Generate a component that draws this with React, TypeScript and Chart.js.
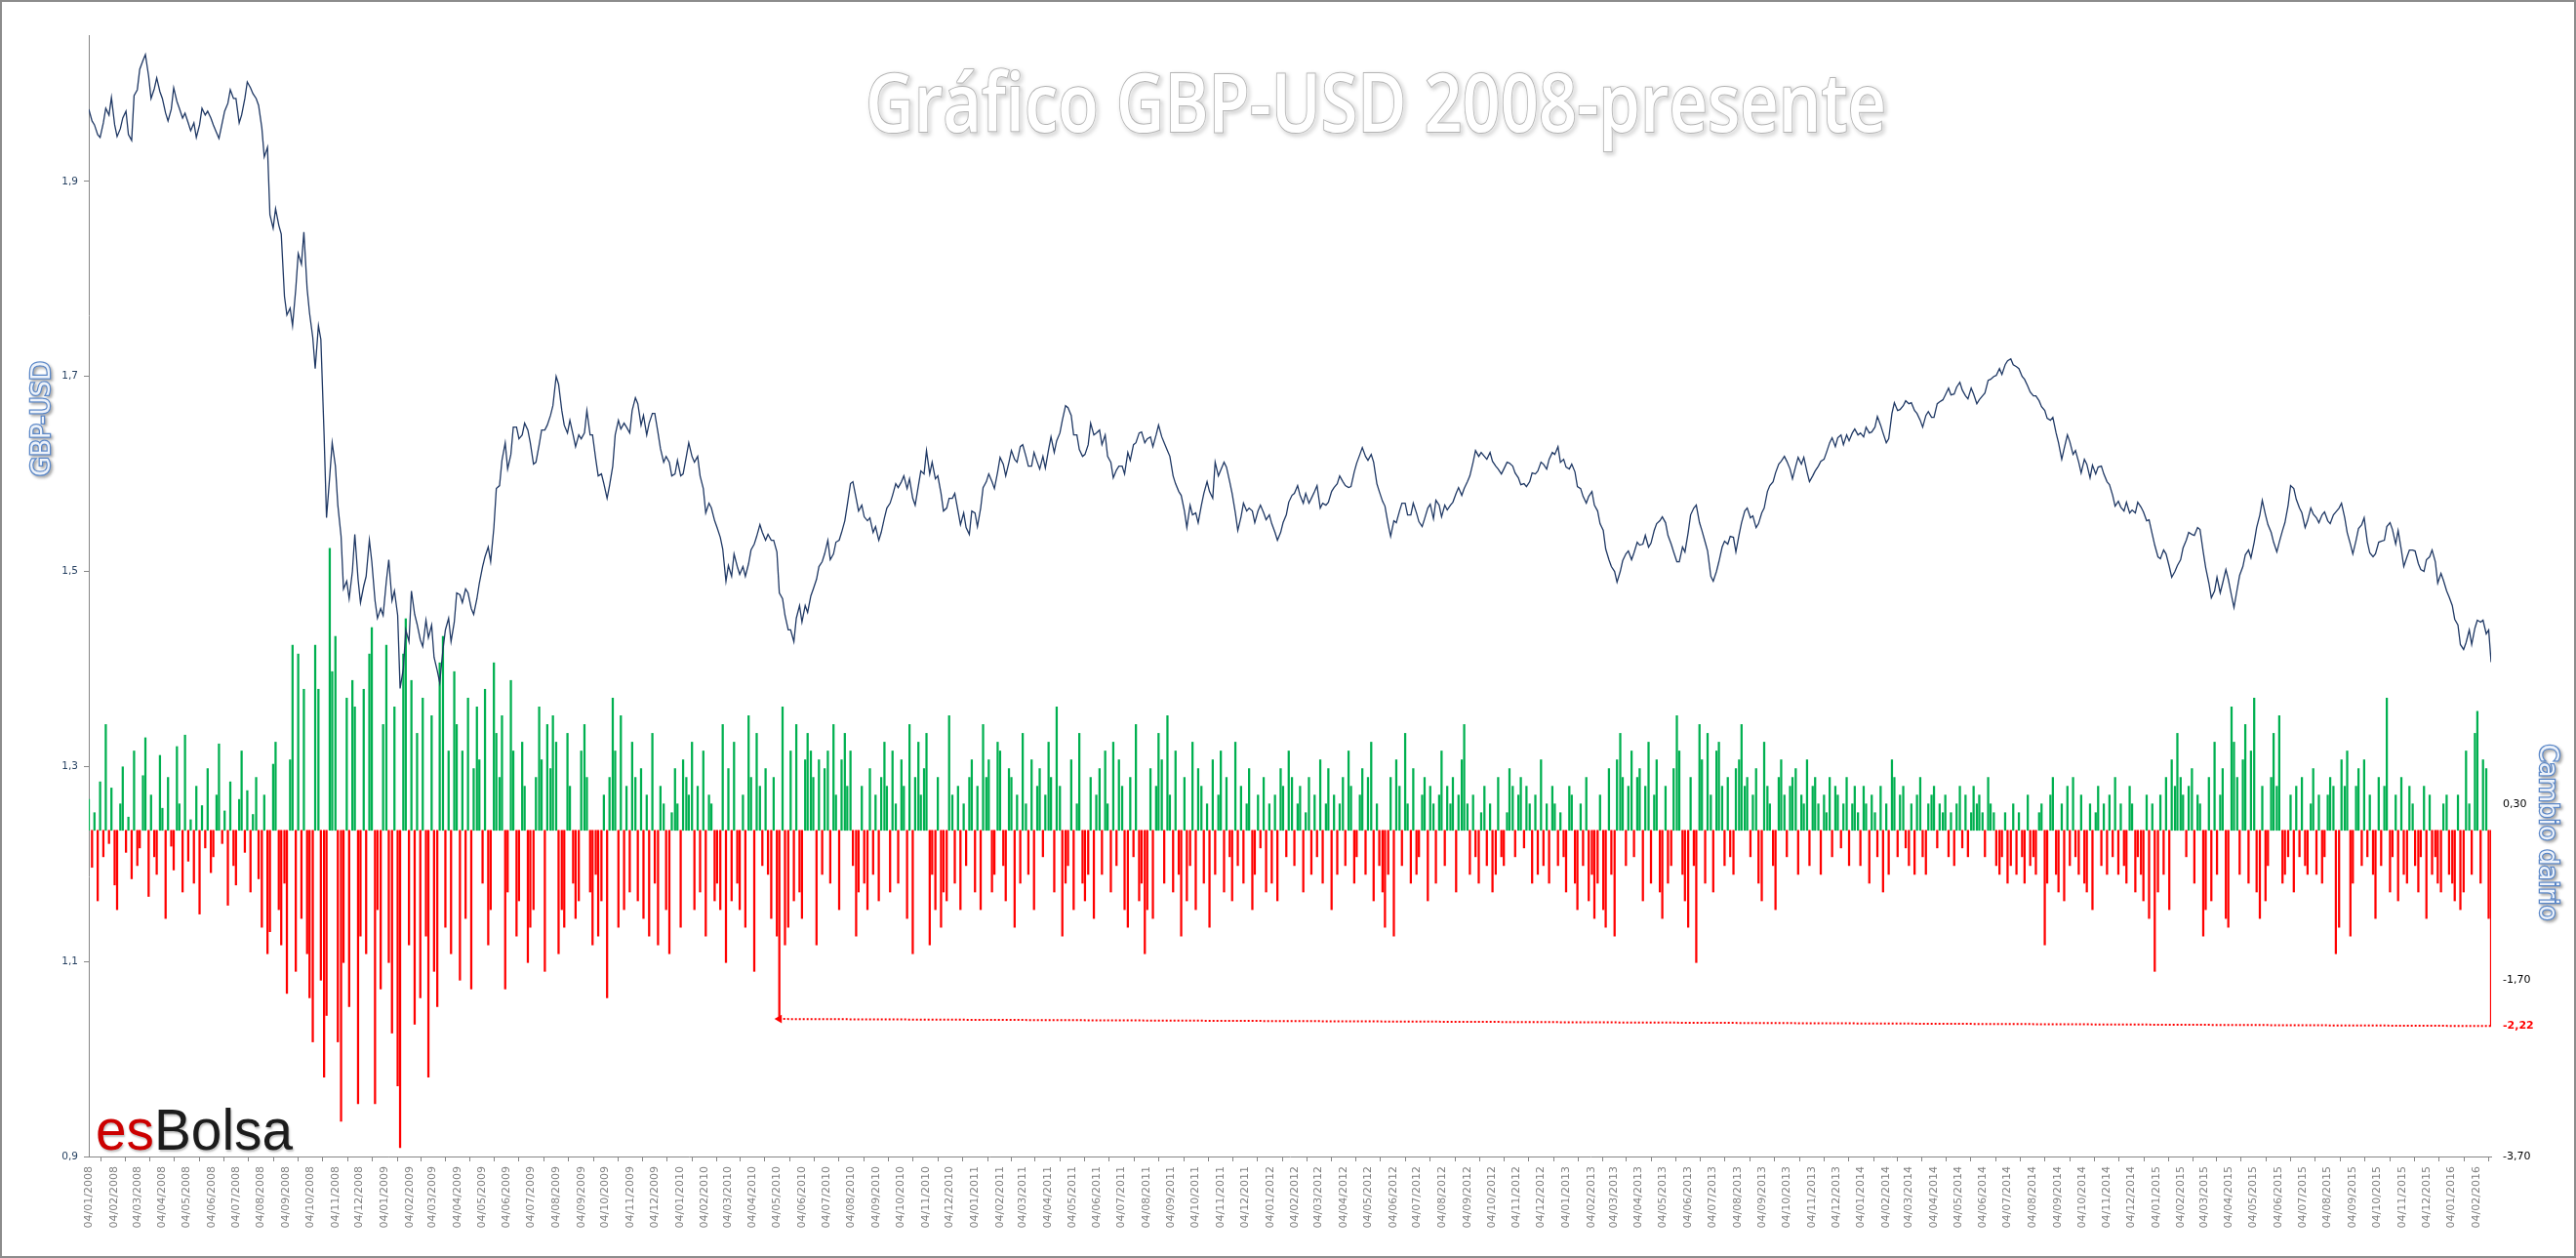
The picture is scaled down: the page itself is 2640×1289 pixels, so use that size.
import React, { useEffect, useRef } from 'react';
import { Chart, registerables } from 'chart.js';

Chart.register(...registerables);

// Weekly (Friday) GBP-USD closes, one array per year
const close2008 = [
  1.974, 1.958, 1.945, 1.975, 1.986, 1.946, 1.965, 1.948, 1.988, 2.015,
  2.030, 1.985, 2.006, 1.985, 1.962, 1.996, 1.975, 1.970, 1.952, 1.945,
  1.975, 1.972, 1.958, 1.944, 1.972, 1.994, 1.985, 1.968, 2.002, 1.990,
  1.978, 1.925, 1.866, 1.872, 1.846, 1.763, 1.752, 1.826, 1.848, 1.765,
  1.708, 1.738, 1.555, 1.632, 1.568, 1.482, 1.472, 1.538, 1.468, 1.495,
  1.510, 1.452,
];
const close2009 = [
  1.455, 1.512, 1.480, 1.380, 1.440, 1.480, 1.446, 1.423, 1.432, 1.412,
  1.386, 1.440, 1.428, 1.478, 1.468, 1.478, 1.456, 1.488, 1.515, 1.510,
  1.585, 1.614, 1.605, 1.648, 1.636, 1.652, 1.632, 1.612, 1.645, 1.650,
  1.670, 1.692, 1.650, 1.655, 1.628, 1.636, 1.665, 1.640, 1.598, 1.590,
  1.588, 1.640, 1.646, 1.648, 1.665, 1.672, 1.660, 1.652, 1.662, 1.626,
  1.618, 1.598,
];
const close2010 = [
  1.614, 1.600, 1.632, 1.612, 1.598, 1.560, 1.565, 1.545, 1.523, 1.506,
  1.518, 1.497, 1.495, 1.522, 1.536, 1.540, 1.538, 1.532, 1.478, 1.455,
  1.440, 1.452, 1.448, 1.458, 1.482, 1.505, 1.518, 1.512, 1.530, 1.540,
  1.568, 1.592, 1.562, 1.556, 1.555, 1.546, 1.540, 1.565, 1.578, 1.586,
  1.598, 1.595, 1.568, 1.603, 1.624, 1.612, 1.598, 1.562, 1.575, 1.580,
  1.548, 1.545, 1.562,
];
const close2011 = [
  1.546, 1.586, 1.600, 1.585, 1.617, 1.598, 1.624, 1.612, 1.630, 1.608,
  1.622, 1.605, 1.606, 1.638, 1.634, 1.655, 1.668, 1.640, 1.625, 1.620,
  1.652, 1.642, 1.630, 1.618, 1.596, 1.608, 1.600, 1.614, 1.632, 1.643,
  1.636, 1.628, 1.650, 1.632, 1.618, 1.590, 1.578, 1.545, 1.558, 1.550,
  1.580, 1.582, 1.612, 1.604, 1.607, 1.580, 1.542, 1.570, 1.565, 1.550,
  1.568, 1.553,
];
const close2012 = [
  1.549, 1.532, 1.550, 1.571, 1.580, 1.578, 1.580, 1.575, 1.588, 1.570,
  1.571, 1.586, 1.598, 1.588, 1.587, 1.611, 1.627, 1.614, 1.612, 1.582,
  1.567, 1.536, 1.550, 1.570, 1.558, 1.570, 1.551, 1.554, 1.569, 1.573,
  1.556, 1.563, 1.571, 1.586, 1.585, 1.598, 1.624, 1.622, 1.615, 1.613,
  1.605, 1.605, 1.611, 1.601, 1.589, 1.587, 1.601, 1.603, 1.610, 1.615,
  1.620, 1.612,
];
const close2013 = [
  1.607, 1.610, 1.587, 1.577, 1.577, 1.568, 1.549, 1.523, 1.505, 1.489,
  1.511, 1.521, 1.519, 1.527, 1.537, 1.529, 1.549, 1.556, 1.537, 1.520,
  1.510, 1.520, 1.558, 1.568, 1.542, 1.521, 1.490, 1.510, 1.531, 1.536,
  1.520, 1.550, 1.565, 1.557, 1.549, 1.565, 1.588, 1.601, 1.613, 1.613,
  1.595, 1.617, 1.617, 1.592, 1.603, 1.613, 1.622, 1.637, 1.637, 1.630,
  1.634, 1.646,
];
const close2014 = [
  1.642, 1.648, 1.643, 1.659, 1.642, 1.636, 1.673, 1.666, 1.675, 1.673,
  1.662, 1.648, 1.664, 1.658, 1.674, 1.681, 1.681, 1.689, 1.686, 1.677,
  1.682, 1.676, 1.683, 1.697, 1.701, 1.702, 1.716, 1.712, 1.708, 1.697,
  1.684, 1.680, 1.669, 1.657, 1.658, 1.632, 1.626, 1.633, 1.624, 1.601,
  1.610, 1.609, 1.607, 1.600, 1.589, 1.567, 1.566, 1.571, 1.563, 1.571,
  1.561, 1.553,
];
const close2015 = [
  1.527, 1.513, 1.518, 1.494, 1.506, 1.524, 1.540, 1.537, 1.543, 1.504,
  1.473, 1.494, 1.488, 1.492, 1.463, 1.496, 1.517, 1.514, 1.545, 1.573,
  1.548, 1.530, 1.530, 1.550, 1.588, 1.574, 1.560, 1.552, 1.559, 1.550,
  1.561, 1.549, 1.561, 1.570, 1.540, 1.518, 1.544, 1.555, 1.519, 1.518,
  1.531, 1.546, 1.543, 1.542, 1.505, 1.522, 1.521, 1.502, 1.512, 1.522,
  1.488, 1.491,
];
const close2016 = [1.474, 1.451, 1.425, 1.427, 1.425, 1.450, 1.450, 1.440];
const lastClose = 1.407;

// mid-week (Tuesday) closes following each Friday above
const tue2008 = [
  1.962, 1.948, 1.960, 1.968, 1.958, 1.954, 1.972, 1.942, 1.994, 2.024,
  2.008, 1.995, 1.992, 1.970, 1.974, 1.982, 1.965, 1.960, 1.960, 1.958,
  1.968, 1.965, 1.950, 1.960, 1.980, 1.985, 1.960, 1.985, 1.996, 1.985,
  1.955, 1.935, 1.852, 1.855, 1.782, 1.770, 1.790, 1.815, 1.790, 1.740,
  1.752, 1.640, 1.598, 1.608, 1.536, 1.490, 1.500, 1.492, 1.485, 1.532,
  1.470, 1.462,
];
const tue2009 = [
  1.490, 1.470, 1.455, 1.400, 1.428, 1.456, 1.430, 1.450, 1.445, 1.398,
  1.420, 1.452, 1.448, 1.476, 1.482, 1.462, 1.472, 1.505, 1.525, 1.545,
  1.588, 1.632, 1.620, 1.648, 1.640, 1.645, 1.610, 1.630, 1.645, 1.660,
  1.700, 1.665, 1.642, 1.640, 1.640, 1.642, 1.640, 1.615, 1.600, 1.575,
  1.608, 1.655, 1.652, 1.642, 1.678, 1.650, 1.640, 1.662, 1.642, 1.612,
  1.612, 1.600,
];
const tue2010 = [
  1.598, 1.618, 1.618, 1.618, 1.585, 1.570, 1.552, 1.535, 1.490, 1.495,
  1.505, 1.505, 1.508, 1.528, 1.548, 1.532, 1.532, 1.520, 1.472, 1.440,
  1.428, 1.465, 1.465, 1.475, 1.492, 1.510, 1.532, 1.518, 1.532, 1.552,
  1.590, 1.575, 1.568, 1.552, 1.540, 1.532, 1.555, 1.570, 1.590, 1.592,
  1.585, 1.575, 1.588, 1.600, 1.600, 1.595, 1.580, 1.565, 1.575, 1.562,
  1.560, 1.538, 1.560,
];
const tue2011 = [
  1.565, 1.592, 1.592, 1.602, 1.610, 1.612, 1.615, 1.628, 1.618, 1.608,
  1.612, 1.618, 1.625, 1.622, 1.642, 1.670, 1.660, 1.640, 1.618, 1.630,
  1.640, 1.645, 1.640, 1.612, 1.604, 1.608, 1.622, 1.630, 1.642, 1.632,
  1.638, 1.640, 1.638, 1.624, 1.598, 1.582, 1.562, 1.568, 1.560, 1.568,
  1.592, 1.575, 1.598, 1.612, 1.592, 1.560, 1.556, 1.562, 1.562, 1.562,
  1.560, 1.558,
];
const tue2012 = [
  1.540, 1.540, 1.558, 1.578, 1.588, 1.570, 1.570, 1.582, 1.565, 1.568,
  1.582, 1.590, 1.592, 1.586, 1.602, 1.620, 1.618, 1.620, 1.590, 1.572,
  1.548, 1.552, 1.562, 1.570, 1.558, 1.560, 1.546, 1.565, 1.554, 1.568,
  1.568, 1.568, 1.580, 1.578, 1.592, 1.612, 1.618, 1.618, 1.622, 1.608,
  1.600, 1.612, 1.608, 1.596, 1.590, 1.592, 1.600, 1.612, 1.605, 1.622,
  1.628, 1.615,
];
const tue2013 = [
  1.605, 1.602, 1.585, 1.570, 1.582, 1.562, 1.542, 1.512, 1.500, 1.500,
  1.518, 1.512, 1.530, 1.528, 1.525, 1.542, 1.552, 1.550, 1.528, 1.510,
  1.525, 1.540, 1.565, 1.550, 1.530, 1.495, 1.500, 1.525, 1.528, 1.535,
  1.538, 1.562, 1.555, 1.545, 1.560, 1.582, 1.592, 1.610, 1.618, 1.605,
  1.608, 1.610, 1.602, 1.598, 1.608, 1.615, 1.632, 1.628, 1.640, 1.640,
  1.642, 1.640,
];
const tue2014 = [
  1.638, 1.642, 1.648, 1.650, 1.632, 1.662, 1.665, 1.670, 1.672, 1.665,
  1.655, 1.660, 1.658, 1.672, 1.676, 1.688, 1.682, 1.694, 1.680, 1.688,
  1.672, 1.680, 1.696, 1.700, 1.708, 1.712, 1.718, 1.710, 1.700, 1.690,
  1.680, 1.675, 1.665, 1.655, 1.642, 1.615, 1.640, 1.620, 1.612, 1.615,
  1.596, 1.600, 1.608, 1.592, 1.578, 1.572, 1.562, 1.560, 1.560, 1.566,
  1.552, 1.538,
];
const tue2015 = [
  1.515, 1.522, 1.505, 1.500, 1.512, 1.532, 1.538, 1.545, 1.520, 1.488,
  1.480, 1.478, 1.502, 1.475, 1.482, 1.505, 1.522, 1.530, 1.558, 1.558,
  1.540, 1.520, 1.542, 1.568, 1.585, 1.565, 1.545, 1.565, 1.555, 1.558,
  1.552, 1.558, 1.565, 1.555, 1.528, 1.532, 1.548, 1.530, 1.515, 1.530,
  1.532, 1.550, 1.528, 1.522, 1.515, 1.522, 1.508, 1.500, 1.515, 1.510,
  1.498, 1.480,
];
const tue2016 = [1.465, 1.445, 1.420, 1.440, 1.442, 1.448, 1.436];

// Daily change (%), sampled Friday / Tuesday, one array per year
const change2008 = [
  0.35, -0.42, 0.2, -0.8, 0.55, -0.3, 1.2, -0.15, 0.48, -0.62,
  -0.9, 0.3, 0.72, -0.25, 0.15, -0.55, 0.9, -0.4, -0.2, 0.62,
  1.05, -0.75, 0.4, -0.3, -0.5, 0.85, 0.25, -1.0, 0.6, -0.18,
  -0.45, 0.95, 0.3, -0.7, 1.08, -0.35, 0.12, -0.6, 0.5, -0.95,
  0.28, -0.2, 0.7, -0.48, -0.3, 0.4, 0.98, -0.15, 0.22, -0.85,
  0.55, -0.4, -0.62, 0.35, 0.9, -0.25, 0.45, -0.7, 0.18, 0.6,
  -0.55, -1.1, 0.4, -1.4, -1.15, 0.75, 1.0, -0.9, -1.3, -0.6,
  -1.85, 0.8, 2.1, -1.6, 2.0, -1.0, 1.6, -1.4, -1.9, -2.4,
  2.1, 1.6, -1.7, -2.8, -2.1, 3.2, 1.8, 2.2, -2.4, -3.3,
  -1.5, 1.5, -2.0, 1.7, 1.4, -3.1, -1.2, 1.6, -1.4, 2.0,
  2.3, -3.1, -0.9, -1.8,
];
const change2009 = [
  1.2, 2.1, -1.5, -2.3, 1.4, -2.9, -3.6, 2.0, 2.4, -1.3,
  1.7, -2.2, 1.1, -1.9, 1.5, -1.2, -2.8, 1.3, -1.6, -2.0,
  1.9, 2.2, -1.1, 0.9, -1.4, 1.8, 1.2, -1.7, 0.9, -1.0,
  1.5, -1.8, 0.7, 1.4, 0.8, -0.6, 1.6, -1.3, -0.9, 1.9,
  1.1, 0.6, 1.3, -1.8, -0.7, 1.7, 0.9, -1.2, -0.8, 1.0,
  0.5, -1.5, -1.1, -0.9, 0.6, 1.4, 0.8, -1.6, 1.2, 0.7,
  1.3, 1.0, -1.4, -0.9, -1.1, 1.1, 0.5, -0.6, -1.0, -0.8,
  0.9, 1.2, 0.6, -0.7, -1.3, -0.5, -1.2, -0.8, 0.4, -1.9,
  0.6, 1.5, 0.9, -1.1, 1.3, -0.9, 0.5, -0.7, 1.0, 0.6,
  -0.8, 0.7, -1.0, 0.4, -1.2, 1.1, -0.6, -1.3, 0.5, 0.3,
  -0.9, -1.4, 0.2, 0.7,
];
const change2010 = [
  0.3, -1.1, 0.8, 0.6, 0.4, 1.0, -0.9, 0.5, -0.7, 0.9,
  -1.2, 0.4, 0.3, -0.8, -0.6, -0.9, 1.2, -1.5, 0.7, -0.8,
  1.0, -0.6, -0.9, 0.4, -1.1, 1.3, 0.6, -1.6, 1.1, 0.5,
  -0.4, 0.7, -0.5, -1.0, 0.6, -1.2, -2.14, 1.4, -1.3, -1.1,
  0.9, -0.8, 1.2, -0.7, -1.0, 0.8, 1.1, 0.9, 0.6, -1.3,
  0.8, -0.5, 0.7, 0.9, -0.6, 1.2, 0.4, -0.9, 0.8, 1.1,
  0.5, 0.9, -0.4, -1.2, -0.7, 0.5, -0.6, -0.9, 0.7, -0.5,
  0.4, -0.8, 0.6, 1.0, 0.5, -0.7, 0.9, 0.3, -0.6, 0.8,
  0.5, -1.0, 1.2, -1.4, 0.6, 1.0, 0.4, 0.7, 1.1, -1.3,
  -0.5, -0.9, 0.6, -1.1, -0.7, -0.8, 1.3, 0.4, -0.6, 0.5,
  -0.9, 0.3, -0.4, 0.6, 0.8, -0.7,
];
const change2011 = [
  0.5, -0.9, 1.2, 0.6, 0.8, -0.7, -0.5, 1.0, 0.9, -0.4,
  -0.8, 0.7, 0.6, -1.1, 0.4, -0.6, 1.1, 0.3, -0.5, 0.8,
  -0.9, 0.5, 0.7, -0.3, 0.4, 1.0, 0.6, -0.7, 1.4, 0.5,
  -1.2, -0.6, -0.4, 0.8, -0.9, 0.3, 1.1, -0.6, -0.8, -0.5,
  0.6, -1.0, 0.4, 0.7, -0.5, 0.9, 0.3, -0.7, 1.0, -0.4,
  0.8, 0.5, -0.9, -1.1, 0.6, -0.3, 1.2, -0.8, -0.6, -1.4,
  -0.9, 0.7, -1.0, 0.5, 1.1, 0.8, -0.6, 1.3, 0.4, -0.7,
  0.9, -0.5, -1.2, 0.6, -0.8, -0.4, 1.0, -0.9, 0.7, 0.5,
  -0.6, 0.3, -1.1, 0.8, -0.5, 0.4, 0.9, -0.7, 0.6, -0.3,
  -0.8, 1.0, -0.4, 0.5, -0.6, 0.3, 0.7, -0.9, -0.5, 0.4,
  -0.2, 0.6, -0.7, 0.3,
];
const change2012 = [
  -0.6, 0.4, -0.8, 0.7, 0.5, -0.3, 0.9, 0.6, -0.4, 0.3,
  0.5, -0.7, 0.2, 0.6, -0.5, 0.4, -0.3, 0.8, -0.6, 0.3,
  0.7, -0.9, 0.4, -0.5, 0.3, 0.6, -0.4, 0.9, 0.5, -0.6,
  -0.3, 0.4, 0.7, -0.5, 0.6, 1.0, -0.8, 0.3, -0.4, -0.7,
  -1.1, -0.5, 0.6, -1.2, 0.8, 0.5, -0.4, 1.1, 0.3, -0.6,
  0.7, -0.5, -0.3, 0.4, 0.6, -0.8, 0.5, 0.3, -0.6, 0.4,
  0.9, -0.4, 0.5, 0.3, 0.6, -0.7, 0.4, 0.8, 1.2, 0.3,
  -0.5, 0.4, -0.3, -0.6, 0.2, 0.5, -0.4, 0.3, -0.7, -0.5,
  0.6, -0.3, -0.4, 0.2, 0.7, 0.5, -0.3, 0.4, 0.6, -0.2,
  0.5, 0.3, -0.6, 0.4, -0.5, 0.8, -0.4, 0.3, -0.6, 0.5,
  0.3, -0.4, 0.2, -0.3,
];
const change2013 = [
  -0.7, 0.5, 0.4, -0.6, -0.9, 0.3, -0.4, 0.6, -0.8, -0.5,
  -1.0, -0.6, 0.4, -0.9, -1.1, 0.7, -0.5, -1.2, 0.8, 1.1,
  0.6, -0.4, 0.5, 0.9, -0.3, 0.6, 0.7, -0.8, 0.5, 1.0,
  -0.6, 0.4, 0.8, -0.7, -1.0, 0.5, -0.6, -0.4, 0.7, 1.3,
  0.9, -0.5, -0.8, -1.1, 0.6, -0.4, -1.5, 1.2, 0.8, -0.6,
  1.1, 0.4, -0.7, 0.9, 1.0, 0.5, -0.4, 0.6, -0.3, -0.5,
  0.7, 0.8, 1.2, 0.5, 0.6, -0.3, 0.4, 0.7, -0.6, -0.8,
  1.0, 0.5, 0.3, -0.4, -0.9, 0.6, 0.8, 0.4, -0.3, 0.5,
  0.6, 0.7, -0.5, 0.4, 0.3, 0.8, -0.4, 0.5, 0.6, 0.3,
  -0.5, 0.4, 0.2, 0.6, -0.3, 0.5, 0.4, -0.2, 0.3, 0.6,
  -0.4, 0.3, 0.5, 0.2,
];
const change2014 = [
  -0.4, 0.5, 0.3, -0.6, 0.4, 0.2, -0.3, 0.5, -0.7, 0.3,
  -0.5, 0.8, 0.6, -0.3, 0.4, 0.5, -0.2, -0.4, 0.3, -0.5,
  0.4, 0.6, -0.3, -0.5, 0.3, 0.4, 0.5, -0.2, 0.3, 0.2,
  0.4, -0.3, 0.2, -0.4, 0.3, 0.5, -0.2, 0.4, -0.3, 0.2,
  0.5, 0.3, 0.4, 0.2, -0.3, 0.6, 0.3, 0.2, -0.4, -0.5,
  -0.3, 0.2, -0.6, -0.4, 0.3, -0.5, 0.2, -0.3, -0.6, 0.4,
  -0.4, -0.3, -0.5, 0.2, 0.3, -1.3, -0.6, 0.4, 0.6, -0.5,
  -0.7, 0.3, -0.8, 0.5, -0.4, 0.6, -0.3, -0.5, 0.4, -0.6,
  -0.7, 0.3, -0.9, 0.2, 0.5, -0.4, 0.3, -0.5, 0.4, -0.3,
  0.6, -0.5, 0.3, -0.4, -0.6, 0.5, 0.3, -0.7, -0.3, -0.5,
  -0.8, 0.4, -1.0, 0.3,
];
const change2015 = [
  -1.6, -0.7, 0.4, -0.5, 0.6, -0.9, 0.8, 0.5, 1.1, 0.6,
  0.4, -0.3, 0.5, 0.7, -0.6, 0.4, 0.3, -1.2, -0.9, 0.6,
  -0.8, 1.0, -0.5, 0.4, 0.7, -1.0, -1.1, 1.4, 1.0, 0.6,
  -0.5, 0.8, 1.2, -0.6, 0.9, 1.5, -0.7, -1.0, 0.5, -0.8,
  -0.4, 0.6, 1.1, 0.5, 1.3, -0.6, -0.5, -0.3, 0.4, -0.7,
  0.5, -0.3, 0.6, -0.4, -0.5, 0.3, 0.7, -0.5, 0.4, -0.6,
  -0.3, 0.4, 0.6, 0.5, -1.4, -1.1, 0.8, 0.5, 0.9, -1.2,
  -0.6, 0.5, 0.7, -0.4, 0.8, -0.3, 0.4, -0.5, -1.0, 0.6,
  -0.4, 0.5, 1.5, -0.7, -0.3, 0.4, -0.8, 0.6, -0.5, -0.6,
  0.5, 0.3, -0.4, -0.7, -0.3, 0.5, -1.0, 0.4, -0.5, -0.3,
  -0.6, -0.7, 0.3, 0.4,
];
const change2016 = [
  -0.5, -0.6, -0.8, 0.4, -0.9, -0.7, 0.9, 0.3, -0.5, 1.1,
  1.35, -0.6, 0.8, 0.7, -1.0,
];
const lastChange = -2.22;

// first Friday of each year, counted in weeks from 04/01/2008
const yearStartWeek = [0, 52, 104, 157, 209, 261, 313, 365, 417];
const yearCloses = [close2008, close2009, close2010, close2011, close2012, close2013, close2014, close2015, close2016];
const yearTuesdays = [tue2008, tue2009, tue2010, tue2011, tue2012, tue2013, tue2014, tue2015, tue2016];
const yearChanges = [change2008, change2009, change2010, change2011, change2012, change2013, change2014, change2015, change2016];

const leftTicks = [0.9, 1.1, 1.3, 1.5, 1.7, 1.9];
const rightTicks = [-3.7, lastChange, -1.7, 0.3];

const TITLE = 'Gráfico GBP-USD 2008-presente';
const LEFT_TITLE = 'GBP-USD';
const RIGHT_TITLE = 'Cambio dairio';

const DAY_MS = 86400000;
const START = Date.UTC(2008, 0, 4);
const LAST_DAY = (Date.UTC(2016, 1, 22) - START) / DAY_MS;

// monthly ticks on the 4th of each month
const monthTickDays: number[] = [];
const monthTickLabels: string[] = [];
for (let k = 0; k < 98; k++) {
  const y = 2008 + Math.floor(k / 12);
  const m = k % 12;
  monthTickDays.push((Date.UTC(y, m, 4) - START) / DAY_MS);
  monthTickLabels.push(`04/${String(m + 1).padStart(2, '0')}/${y}`);
}

const linePoints: { x: number; y: number }[] = [];
const barPoints: { x: number; y: number }[] = [];
yearStartWeek.forEach((w0, yi) => {
  yearCloses[yi].forEach((v, i) => {
    linePoints.push({ x: 7 * (w0 + i), y: v });
    const t = yearTuesdays[yi][i];
    if (t !== undefined) linePoints.push({ x: 7 * (w0 + i) + 4, y: t });
  });
  yearChanges[yi].forEach((v, j) =>
    barPoints.push({ x: 7 * (w0 + Math.floor(j / 2)) + (j % 2) * 4, y: v })
  );
});
linePoints.push({ x: LAST_DAY, y: lastClose });
barPoints.push({ x: LAST_DAY, y: lastChange });

// dotted arrow from the last drop back to May 2010
const may2010 = 36;
const arrowPoints = [
  { x: 7 * (yearStartWeek[2] + Math.floor(may2010 / 2)), y: change2010[may2010] },
  { x: LAST_DAY, y: lastChange },
];

const comma = (v: number, d: number) => v.toFixed(d).replace('.', ',');

const decorations = {
  id: 'decorations',
  afterDraw(chart: Chart) {
    const { ctx } = chart;

    // big title
    ctx.save();
    ctx.font = '600 84px "Open Sans"';
    const tw = ctx.measureText(TITLE).width;
    ctx.translate(1408, 133);
    ctx.scale(1046 / tw, 1);
    ctx.textAlign = 'center';
    ctx.textBaseline = 'alphabetic';
    ctx.shadowColor = 'rgba(0,0,0,0.35)';
    ctx.shadowBlur = 4;
    ctx.shadowOffsetX = 2;
    ctx.shadowOffsetY = 2;
    ctx.lineWidth = 2;
    ctx.strokeStyle = '#b4b4b4';
    ctx.strokeText(TITLE, 0, 0);
    ctx.shadowColor = 'transparent';
    ctx.fillStyle = '#ffffff';
    ctx.fillText(TITLE, 0, 0);
    ctx.restore();

    // axis titles
    const axisTitle = (text: string, x: number, y: number, angle: number) => {
      ctx.save();
      ctx.translate(x, y);
      ctx.rotate(angle);
      ctx.font = '26px "DejaVu Sans"';
      ctx.textAlign = 'center';
      ctx.textBaseline = 'middle';
      ctx.shadowColor = 'rgba(0,0,0,0.35)';
      ctx.shadowBlur = 3;
      ctx.shadowOffsetX = 2;
      ctx.shadowOffsetY = 2;
      ctx.lineWidth = 2.5;
      ctx.strokeStyle = '#5a87c8';
      ctx.strokeText(text, 0, 0);
      ctx.shadowColor = 'transparent';
      ctx.fillStyle = '#eef3fa';
      ctx.fillText(text, 0, 0);
      ctx.restore();
    };
    axisTitle(LEFT_TITLE, 42, 427, -Math.PI / 2);
    axisTitle(RIGHT_TITLE, 2608, 851, Math.PI / 2);

    // logo
    ctx.save();
    ctx.font = '59px "Liberation Sans"';
    const wEs = ctx.measureText('es').width;
    const wAll = ctx.measureText('esBolsa').width;
    ctx.translate(96, 1176);
    ctx.scale(202 / wAll, 1);
    ctx.textBaseline = 'alphabetic';
    ctx.shadowColor = 'rgba(0,0,0,0.25)';
    ctx.shadowBlur = 2;
    ctx.shadowOffsetX = 1;
    ctx.shadowOffsetY = 2;
    ctx.fillStyle = '#cc0000';
    ctx.fillText('es', 0, 0);
    ctx.fillStyle = '#1c1c1c';
    ctx.fillText('Bolsa', wEs, 0);
    ctx.restore();
  },
};

export default function App() {
  const canvasRef = useRef<HTMLCanvasElement>(null);

  useEffect(() => {
    document.body.style.margin = '0';
    if (!canvasRef.current) return;

    const axisGrey = '#868686';
    const chart = new Chart(canvasRef.current, {
      type: 'bar',
      data: {
        datasets: [
          {
            type: 'line',
            label: 'Flecha',
            data: arrowPoints,
            yAxisID: 'y1',
            borderColor: '#ff0000',
            borderWidth: 2,
            borderDash: [2, 2],
            pointRadius: [5, 0],
            pointStyle: 'triangle',
            pointRotation: -90,
            pointBackgroundColor: '#ff0000',
            pointBorderWidth: 0,
            order: 0,
          },
          {
            type: 'line',
            label: 'GBP-USD',
            data: linePoints,
            yAxisID: 'y',
            borderColor: '#1f3864',
            borderWidth: 1.3,
            pointRadius: 0,
            tension: 0,
            order: 1,
          },
          {
            type: 'bar',
            label: 'Cambio diario',
            data: barPoints,
            yAxisID: 'y1',
            backgroundColor: (c: any) => ((c.raw?.y ?? 0) >= 0 ? '#00b050' : '#ff0000'),
            barThickness: 1.6,
            borderWidth: 0,
            order: 2,
          },
        ] as any,
      },
      options: {
        animation: false,
        responsive: true,
        maintainAspectRatio: false,
        layout: { padding: { top: 34, left: 0, right: 0, bottom: 0 } },
        plugins: {
          legend: { display: false },
          tooltip: { enabled: false },
        },
        scales: {
          x: {
            type: 'linear',
            min: 0,
            max: LAST_DAY,
            offset: false,
            afterBuildTicks: (s: any) => {
              s.ticks = monthTickDays.map((v) => ({ value: v }));
            },
            afterFit: (s: any) => {
              s.height = 102;
            },
            grid: { drawOnChartArea: false, color: axisGrey, tickLength: 5 },
            border: { color: axisGrey },
            ticks: {
              autoSkip: false,
              minRotation: 90,
              maxRotation: 90,
              padding: 5,
              color: '#7f7f7f',
              font: { family: 'DejaVu Sans', size: 11 },
              callback: (_v: any, i: number) => monthTickLabels[i],
            },
          },
          y: {
            position: 'left',
            min: 0.9,
            max: 2.05,
            afterBuildTicks: (s: any) => {
              s.ticks = leftTicks.map((v) => ({ value: v }));
            },
            afterFit: (s: any) => {
              s.width = 89;
            },
            grid: { drawOnChartArea: false, color: axisGrey, tickLength: 5 },
            border: { color: axisGrey },
            ticks: {
              padding: 6,
              color: '#243f60',
              font: { family: 'DejaVu Sans', size: 10.5 },
              callback: (v: any) => comma(Number(v), 1),
            },
          },
          y1: {
            position: 'right',
            min: -3.7,
            max: 9.02,
            afterBuildTicks: (s: any) => {
              s.ticks = rightTicks.map((v) => ({ value: v }));
            },
            afterFit: (s: any) => {
              s.width = 85;
            },
            grid: { display: false, drawTicks: false },
            border: { display: false },
            ticks: {
              padding: 12,
              color: (c: any) => (c.tick?.value === lastChange ? '#ff0000' : '#000000'),
              font: (c: any) => ({
                family: 'DejaVu Sans',
                size: 11,
                weight: c.tick?.value === lastChange ? 'bold' : 'normal',
              }),
              callback: (v: any) => comma(Number(v), 2),
            },
          },
        },
      } as any,
      plugins: [decorations],
    });

    return () => chart.destroy();
  }, []);

  return (
    <div
      style={{
        width: 2640,
        height: 1289,
        border: '2px solid #8c8c8c',
        boxSizing: 'border-box',
        background: '#ffffff',
        position: 'relative',
      }}
    >
      <canvas ref={canvasRef} />
    </div>
  );
}
